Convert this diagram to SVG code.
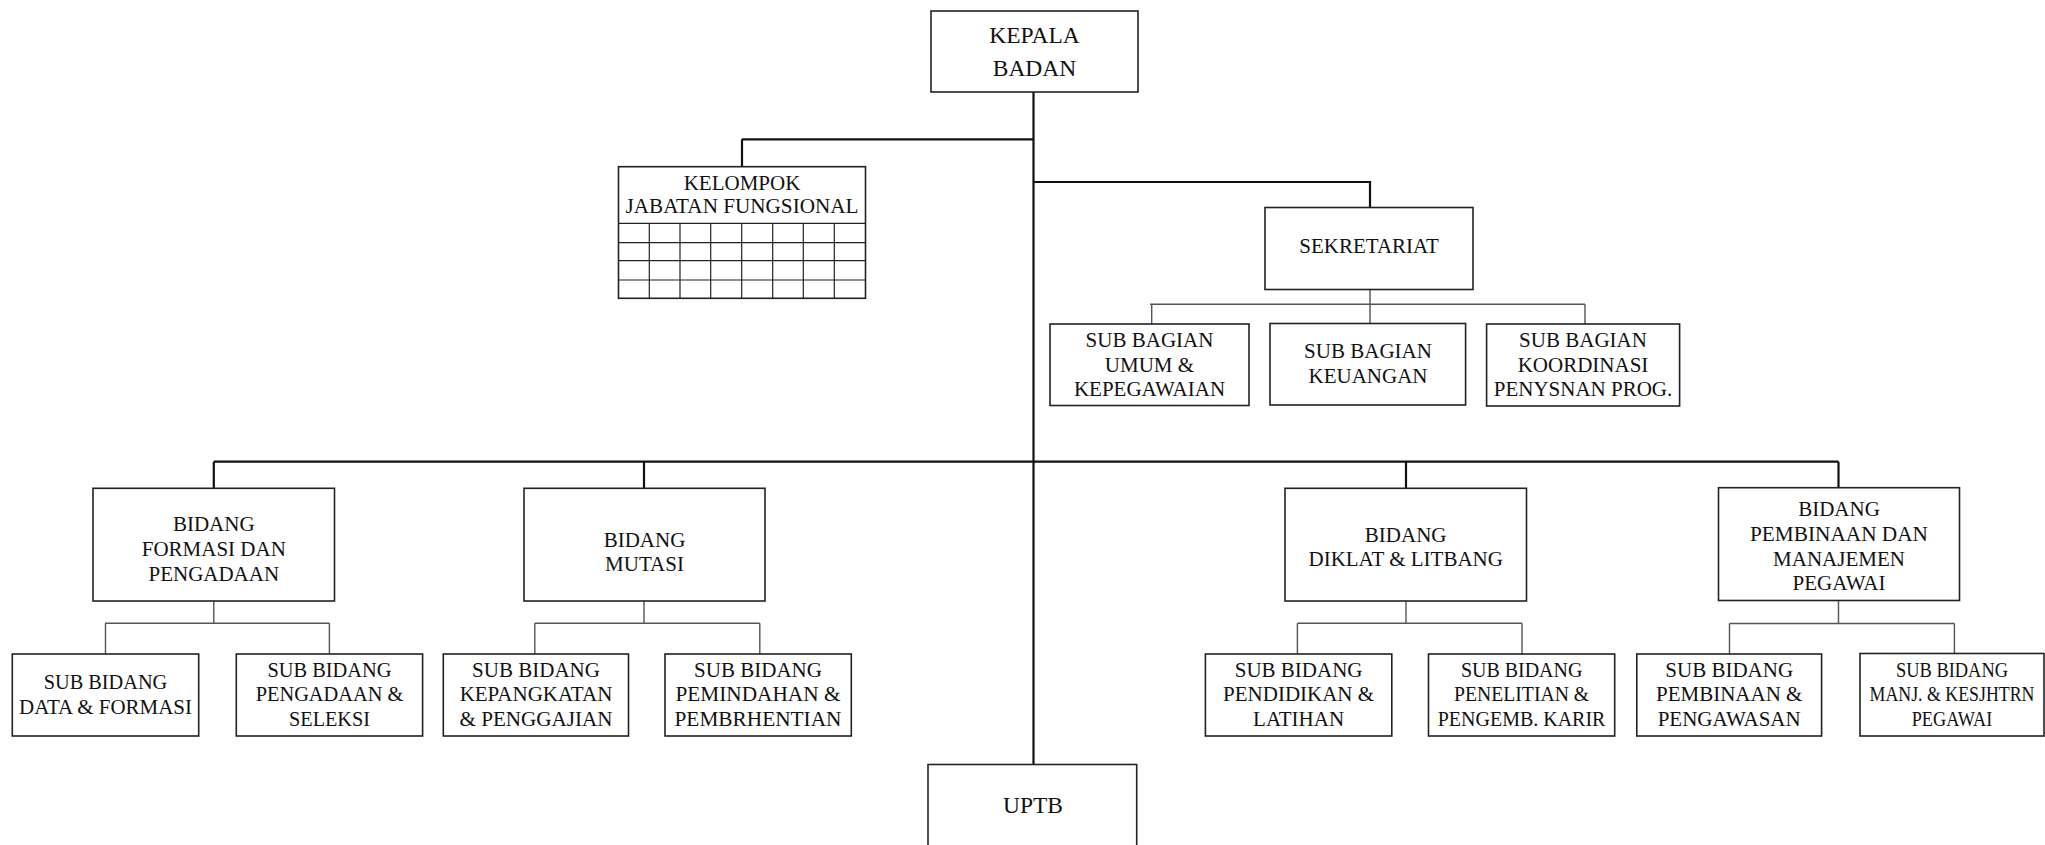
<svg xmlns="http://www.w3.org/2000/svg" width="2045" height="845" viewBox="0 0 2045 845" font-family="'Liberation Serif', 'DejaVu Serif', serif">
<style>
.box{fill:#fff;stroke:#222;stroke-width:1.6}
.grid{fill:none;stroke:#222;stroke-width:1.2}
.main{fill:none;stroke:#111;stroke-width:2.2}
.sub{fill:none;stroke:#555;stroke-width:1.4}
text{font-family:'Liberation Serif','DejaVu Serif',serif;font-size:21px;fill:#111;text-anchor:middle}
.big{font-size:23.5px}
</style>
<rect width="2045" height="845" fill="#fff"/>
<g id="connectors">
<path class="main" d="M1033.5 92V764.5M742 139.3H1033.5M742 139.3V166.7M1033.5 182H1370V207.5M213.8 461.7H1838.5M213.8 461.7V488.3M644 461.7V488.3M1406 461.7V488.3M1838.5 461.7V487.7"/>
<path class="sub" d="M1370 289.5V323.5M1150 304.3H1585M1151.7 304.3V324M1585 304.3V324"/>
<path class="sub" d="M213.8 601V623.3M105 623.3H329.4M105.5 623.3V654M329.4 623.3V654"/>
<path class="sub" d="M644 601V623.3M534.8 623.3H759.8M534.8 623.3V654M759.8 623.3V654"/>
<path class="sub" d="M1406 601V623.3M1297.4 623.3H1522M1297.4 623.3V654M1522 623.3V654"/>
<path class="sub" d="M1838.5 600.5V623.5M1729.5 623.5H1954.4M1729.5 623.5V654M1954.4 623.5V654"/>
</g>
<g id="kepala">
<rect class="box" x="931" y="11" width="207" height="81"/>
<text class="big" x="1034.5" y="43">KEPALA</text>
<text class="big" x="1034.5" y="76">BADAN</text>
</g>
<g id="kelompok">
<rect class="box" x="618.5" y="166.7" width="247" height="131.6"/>
<path class="grid" d="M618.5 223.3H865.5M618.5 242.7H865.5M618.5 260.7H865.5M618.5 280H865.5M649.3 223.3V298.3M680 223.3V298.3M710.7 223.3V298.3M741.7 223.3V298.3M772.7 223.3V298.3M803.3 223.3V298.3M834.3 223.3V298.3"/>
<text x="742" y="190">KELOMPOK</text>
<text x="742" y="213.3" textLength="233" lengthAdjust="spacingAndGlyphs">JABATAN FUNGSIONAL</text>
</g>
<g id="sekretariat">
<rect class="box" x="1265" y="207.5" width="208" height="82"/>
<text x="1369" y="253">SEKRETARIAT</text>
</g>
<g id="sub-umum">
<rect class="box" x="1050" y="324" width="199" height="81.5"/>
<text x="1149.5" y="346.7">SUB BAGIAN</text>
<text x="1149.5" y="371.7">UMUM &amp;</text>
<text x="1149.5" y="395.7">KEPEGAWAIAN</text>
</g>
<g id="sub-keuangan">
<rect class="box" x="1270" y="323.5" width="195.6" height="81.5"/>
<text x="1368" y="358.3">SUB BAGIAN</text>
<text x="1368" y="383.3">KEUANGAN</text>
</g>
<g id="sub-koordinasi">
<rect class="box" x="1486.6" y="324" width="193" height="82"/>
<text x="1583" y="346.7">SUB BAGIAN</text>
<text x="1583" y="371.7">KOORDINASI</text>
<text x="1583" y="395.7">PENYSNAN PROG.</text>
</g>
<g id="bidang-formasi">
<rect class="box" x="93" y="488.3" width="241.5" height="112.7"/>
<text x="213.8" y="530.7">BIDANG</text>
<text x="213.8" y="555.7">FORMASI DAN</text>
<text x="213.8" y="580.7">PENGADAAN</text>
</g>
<g id="bidang-mutasi">
<rect class="box" x="524" y="488.3" width="241" height="112.7"/>
<text x="644.5" y="546.7">BIDANG</text>
<text x="644.5" y="571">MUTASI</text>
</g>
<g id="bidang-diklat">
<rect class="box" x="1285" y="488.3" width="241.5" height="112.7"/>
<text x="1405.7" y="541.7">BIDANG</text>
<text x="1405.7" y="566">DIKLAT &amp; LITBANG</text>
</g>
<g id="bidang-pembinaan">
<rect class="box" x="1718.5" y="487.7" width="241" height="112.8"/>
<text x="1839" y="516">BIDANG</text>
<text x="1839" y="541" textLength="178" lengthAdjust="spacingAndGlyphs">PEMBINAAN DAN</text>
<text x="1839" y="566">MANAJEMEN</text>
<text x="1839" y="590">PEGAWAI</text>
</g>
<g id="sub-data-formasi">
<rect class="box" x="12.3" y="654" width="186.4" height="82"/>
<text x="105.5" y="689.3" textLength="123.5" lengthAdjust="spacingAndGlyphs">SUB BIDANG</text>
<text x="105.5" y="714" textLength="173" lengthAdjust="spacingAndGlyphs">DATA &amp; FORMASI</text>
</g>
<g id="sub-pengadaan">
<rect class="box" x="236.3" y="654" width="186.3" height="82"/>
<text x="329.5" y="676.7" textLength="124" lengthAdjust="spacingAndGlyphs">SUB BIDANG</text>
<text x="329.5" y="701" textLength="147.6" lengthAdjust="spacingAndGlyphs">PENGADAAN &amp;</text>
<text x="329.5" y="725.7" textLength="81" lengthAdjust="spacingAndGlyphs">SELEKSI</text>
</g>
<g id="sub-kepangkatan">
<rect class="box" x="443.3" y="654" width="185.2" height="82"/>
<text x="536" y="676.7">SUB BIDANG</text>
<text x="536" y="701">KEPANGKATAN</text>
<text x="536" y="725.7" textLength="153" lengthAdjust="spacingAndGlyphs">&amp; PENGGAJIAN</text>
</g>
<g id="sub-pemindahan">
<rect class="box" x="665" y="654" width="186.3" height="82"/>
<text x="758" y="676.7">SUB BIDANG</text>
<text x="758" y="701" textLength="165" lengthAdjust="spacingAndGlyphs">PEMINDAHAN &amp;</text>
<text x="758" y="725.7" textLength="167" lengthAdjust="spacingAndGlyphs">PEMBRHENTIAN</text>
</g>
<g id="sub-pendidikan">
<rect class="box" x="1205.4" y="654" width="186.4" height="82"/>
<text x="1298.6" y="676.7">SUB BIDANG</text>
<text x="1298.6" y="701">PENDIDIKAN &amp;</text>
<text x="1298.6" y="725.7">LATIHAN</text>
</g>
<g id="sub-penelitian">
<rect class="box" x="1428.5" y="654" width="186.2" height="82"/>
<text x="1521.6" y="676.7" textLength="121.4" lengthAdjust="spacingAndGlyphs">SUB BIDANG</text>
<text x="1521.6" y="701" textLength="135" lengthAdjust="spacingAndGlyphs">PENELITIAN &amp;</text>
<text x="1521.6" y="725.7" textLength="167.7" lengthAdjust="spacingAndGlyphs">PENGEMB. KARIR</text>
</g>
<g id="sub-pembinaan">
<rect class="box" x="1636.8" y="654" width="184.8" height="82"/>
<text x="1729.2" y="676.7">SUB BIDANG</text>
<text x="1729.2" y="701">PEMBINAAN &amp;</text>
<text x="1729.2" y="725.7">PENGAWASAN</text>
</g>
<g id="sub-manj">
<rect class="box" x="1860" y="653.5" width="184" height="82.5"/>
<text transform="translate(1952 676.7) scale(0.877 1)">SUB BIDANG</text>
<text transform="translate(1952 701) scale(0.85 1)">MANJ. &amp; KESJHTRN</text>
<text transform="translate(1952 725.7) scale(0.868 1)">PEGAWAI</text>
</g>
<g id="uptb">
<rect class="box" x="928" y="764.5" width="208.7" height="100"/>
<text class="big" x="1033" y="812.7">UPTB</text>
</g>
</svg>
